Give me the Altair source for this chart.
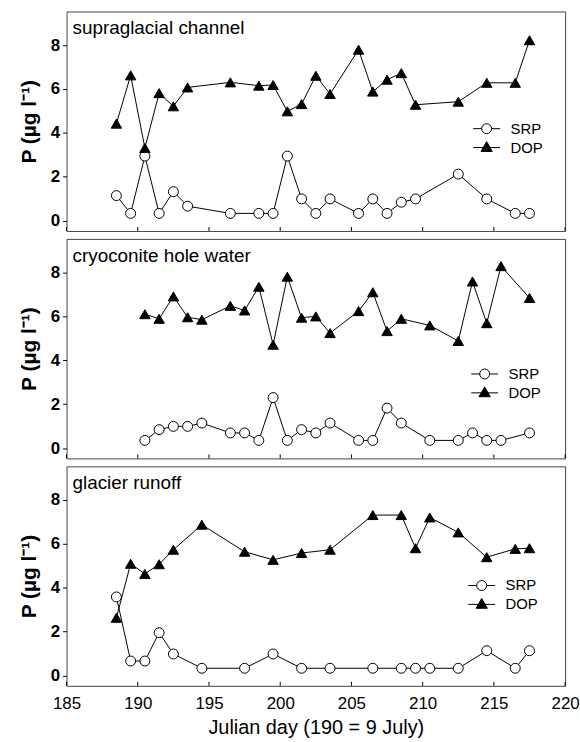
import altair as alt
import pandas as pd

# ---------------- data ----------------
days1 = [188.5, 189.5, 190.5, 191.5, 192.5, 193.5, 196.5, 198.5, 199.5, 200.5, 201.5,
         202.5, 203.5, 205.5, 206.5, 207.5, 208.5, 209.5, 212.5, 214.5, 216.5, 217.5]
srp1 = [1.14, 0.33, 2.94, 0.33, 1.32, 0.66, 0.33, 0.33, 0.33, 2.94, 0.99,
        0.33, 0.99, 0.33, 0.99, 0.33, 0.84, 0.99, 2.12, 0.99, 0.33, 0.33]
dop1 = [4.42, 6.62, 3.31, 5.81, 5.21, 6.07, 6.30, 6.15, 6.18, 4.98, 5.31,
        6.60, 5.77, 7.79, 5.88, 6.42, 6.72, 5.28, 5.42, 6.28, 6.28, 8.22]

days2 = [190.5, 191.5, 192.5, 193.5, 194.5, 196.5, 197.5, 198.5, 199.5, 200.5, 201.5, 202.5,
         203.5, 205.5, 206.5, 207.5, 208.5, 210.5, 212.5, 213.5, 214.5, 215.5, 217.5]
srp2 = [0.35, 0.84, 0.99, 0.99, 1.14, 0.69, 0.69, 0.35, 2.30, 0.35, 0.84, 0.69,
        1.14, 0.35, 0.35, 1.82, 1.14, 0.35, 0.35, 0.69, 0.35, 0.35, 0.69]
dop2 = [6.10, 5.89, 6.91, 5.96, 5.85, 6.48, 6.27, 7.35, 4.71, 7.81, 5.94, 6.00,
        5.24, 6.24, 7.10, 5.33, 5.89, 5.59, 4.88, 7.59, 5.69, 8.29, 6.84]

days3 = [188.5, 189.5, 190.5, 191.5, 192.5, 194.5, 197.5, 199.5, 201.5, 203.5,
         206.5, 208.5, 209.5, 210.5, 212.5, 214.5, 216.5, 217.5]
srp3 = [3.58, 0.66, 0.66, 1.95, 0.98, 0.33, 0.33, 0.98, 0.33, 0.33,
        0.33, 0.33, 0.33, 0.33, 0.33, 1.13, 0.33, 1.13]
dop3 = [2.63, 5.09, 4.63, 5.07, 5.73, 6.87, 5.64, 5.27, 5.58, 5.73,
        7.31, 7.31, 5.80, 7.20, 6.52, 5.39, 5.77, 5.80]

panel_labels = ["supraglacial channel", "cryoconite hole water", "glacier runoff"]
series_names = ["SRP", "DOP"]
x_ticks = [185, 190, 195, 200, 205, 210, 215, 220]
y_ticks = [0, 2, 4, 6, 8]

# ---------------- styling ----------------
FONT = "Liberation Sans"
XDOM = [185, 220]
YDOM = [-0.47, 9.53]
W, H = 502, 221

SRP_PATH = "M-1,0H-0.37M0.37,0H1M0.37,0A0.37,0.37,0,1,1,-0.37,0A0.37,0.37,0,1,1,0.37,0Z"
DOP_PATH = "M-1,0H1M0,-0.44L0.42,0.29L-0.42,0.29Z"


def legend(path, lx, ly):
    return alt.Legend(orient="none", legendX=lx, legendY=ly, title=None, padding=0,
                      symbolType=path, symbolSize=729, symbolStrokeWidth=1,
                      symbolStrokeColor="black", symbolOpacity=1,
                      labelFontSize=15, labelFont=FONT, labelOffset=10, labelColor="black")


def panel(days, srp, dop, label, leg_x, leg_y, bottom):
    n = len(days)
    df = pd.DataFrame({
        "day": days + days,
        "value": srp + dop,
        "series": [series_names[0]] * n + [series_names[1]] * n,
    })
    df_srp = df[df.series == series_names[0]]
    df_dop = df[df.series == series_names[1]]
    xscale = alt.Scale(domain=XDOM, nice=False, zero=False)
    yscale = alt.Scale(domain=YDOM, nice=False, zero=False)

    if bottom:
        x_axis = alt.Axis(values=x_ticks, title="Julian day (190 = 9 July)",
                          ticks=False, domain=False, grid=False,
                          labelFontSize=17, labelPadding=10, labelFlush=False,
                          titleFontSize=20, titleFontWeight="normal", titlePadding=6)
    else:
        x_axis = None

    y_axis = alt.Axis(values=y_ticks, title="P (µg l⁻¹)", domain=False, grid=False,
                      tickSize=4, labelPadding=3, labelFontSize=17, labelFontWeight="bold",
                      titleFontSize=21, titleFontWeight="bold", titlePadding=11)

    X = alt.X("day:Q", scale=xscale, axis=x_axis)
    Y = alt.Y("value:Q", scale=yscale, axis=y_axis)

    lines = alt.Chart(df).mark_line(color="black", strokeWidth=1).encode(
        x=X, y=Y, detail="series:N",
    )
    # inward x tick marks along the bottom edge of each panel
    ticks = alt.Chart(pd.DataFrame({"day": x_ticks})).mark_rule(
        color="black", strokeWidth=1
    ).encode(x=X, y=alt.value(H), y2=alt.value(H - 4))

    pts_srp = alt.Chart(df_srp).mark_point(
        shape="circle", filled=True, stroke="black", strokeWidth=1, opacity=1, size=100
    ).encode(
        x=X, y=Y,
        fill=alt.Fill("series:N", scale=alt.Scale(domain=[series_names[0]], range=["white"]),
                      legend=legend(SRP_PATH, leg_x, leg_y)),
    )
    pts_dop = alt.Chart(df_dop).mark_point(
        shape="triangle-up", filled=True, stroke="black", strokeWidth=1, opacity=1, size=110
    ).encode(
        x=X, y=Y,
        fill=alt.Fill("series:N", scale=alt.Scale(domain=[series_names[1]], range=["black"]),
                      legend=legend(DOP_PATH, leg_x, leg_y + 19)),
    )
    text = alt.Chart(pd.DataFrame({"t": [label]})).mark_text(
        align="left", baseline="alphabetic", fontSize=19, font=FONT, color="black"
    ).encode(x=alt.value(6), y=alt.value(23), text="t:N")

    return (alt.layer(lines, ticks, pts_srp, pts_dop, text)
            .resolve_scale(fill="independent")
            .properties(width=W, height=H))


p1 = panel(days1, srp1, dop1, panel_labels[0], 409, 104, False)
p2 = panel(days2, srp2, dop2, panel_labels[1], 407, 122, False)
p3 = panel(days3, srp3, dop3, panel_labels[2], 404, 106, True)

chart = alt.vconcat(p1, p2, p3, spacing=6).properties(
    padding={"left": 18, "top": 8, "right": 0, "bottom": 0}
).configure_view(
    stroke="#444", strokeWidth=1
).configure_axis(
    labelFont=FONT, titleFont=FONT, labelColor="black", titleColor="black",
    tickColor="black", tickWidth=1
)

chart.save("out.html", embed_options={"renderer": "svg", "actions": False})
